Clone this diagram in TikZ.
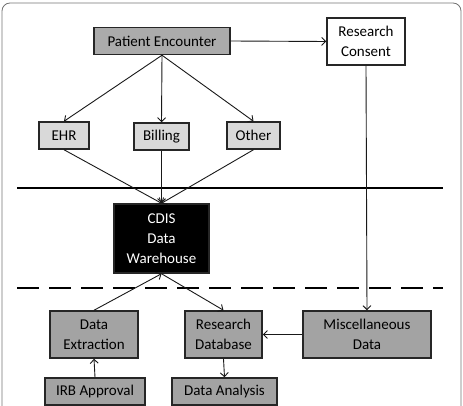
\documentclass[tikz,border=0pt]{standalone}
\usepackage{fontspec}
\setmainfont{Carlito}
\usepackage{xcolor}
\usepackage{tikz}
\usetikzlibrary{arrows.meta,positioning}

\tikzset{
  box/.style={draw=black!85, line width=1.5pt, inner sep=0pt, align=center},
  topbox/.style={box, fill=black!33},
  srcbox/.style={box, fill=black!15},
  lowbox/.style={box, fill=black!36},
  flow/.style={-{Straight Barb[length=4pt,width=8pt]}, line width=0.9pt, black!90},
}

\begin{document}
\begin{tikzpicture}[x=1pt, y=-1pt, font=\fontsize{15}{20}\selectfont]
      % 1 unit = 1 px of the 463 x 406 frame
      \useasboundingbox (0,0) rectangle (463,406);
      \draw[black!55, line width=0.8pt, rounded corners=8pt] (2,3) rectangle (461,430);

      % sources
      \node[topbox, minimum width=136pt, minimum height=27pt] (enc) at (162,41)   {Patient Encounter};
      \node[box, fill=white, minimum width=78pt, minimum height=47pt] (consent) at (366,41.5) {Research\\Consent};
      \node[srcbox, minimum width=50pt, minimum height=27pt] (ehr)  at (64,135.5)  {EHR};
      \node[srcbox, minimum width=55pt, minimum height=27pt] (bill) at (161.5,136.5) {Billing};
      \node[srcbox, minimum width=53pt, minimum height=27pt] (oth)  at (253.5,135.5) {Other};

      % warehouse
      \node[box, fill=black, text=white, minimum width=95pt, minimum height=69pt] (cdis) at (161.5,238.5) {CDIS\\Data\\Warehouse};

      % research side
      \node[lowbox, minimum width=88pt, minimum height=47pt]  (extr) at (94,334.5)   {Data\\Extraction};
      \node[lowbox, minimum width=77pt, minimum height=47pt]  (rdb)  at (223.5,334.5) {Research\\Database};
      \node[lowbox, minimum width=128pt, minimum height=47pt] (misc) at (367,334.5)  {Miscellaneous\\Data};
      \node[lowbox, minimum width=100pt, minimum height=27pt] (irb)  at (95,391.5)   {IRB Approval};
      \node[lowbox, minimum width=105pt, minimum height=27pt] (ana)  at (224.5,391.5) {Data Analysis};

      % separators
      \coordinate (solidL) at (17,188);  \coordinate (solidR) at (443,188);
      \coordinate (dashL)  at (17,288);  \coordinate (dashR)  at (443,288);
      \draw[line width=1.8pt] (solidL) -- (solidR);
      \draw[line width=2.6pt, dash pattern=on 22pt off 10pt] (dashL) -- (dashR);

      % flows
      \draw[flow] (enc.east) -- (consent.west);
      \draw[flow] (enc.south) -- (ehr.north);
      \draw[flow] (enc.south) -- (bill.north);
      \draw[flow] (enc.south) -- (oth.north);
      \draw[flow] (ehr.south) -- (cdis.north);
      \draw[flow] (bill.south) -- (cdis.north);
      \draw[flow] (oth.south) -- (cdis.north);
      \draw[flow] (consent.south) -- (misc.north);
      \draw[flow] (extr.north) -- (cdis.south);
      \draw[flow] (cdis.south) -- (rdb.north);
      \draw[flow] (misc.west) -- (rdb.east);
      \draw[flow] (irb.north) -- (extr.south);
      \draw[flow] (rdb.south) -- (ana.north);
\end{tikzpicture}
\end{document}
